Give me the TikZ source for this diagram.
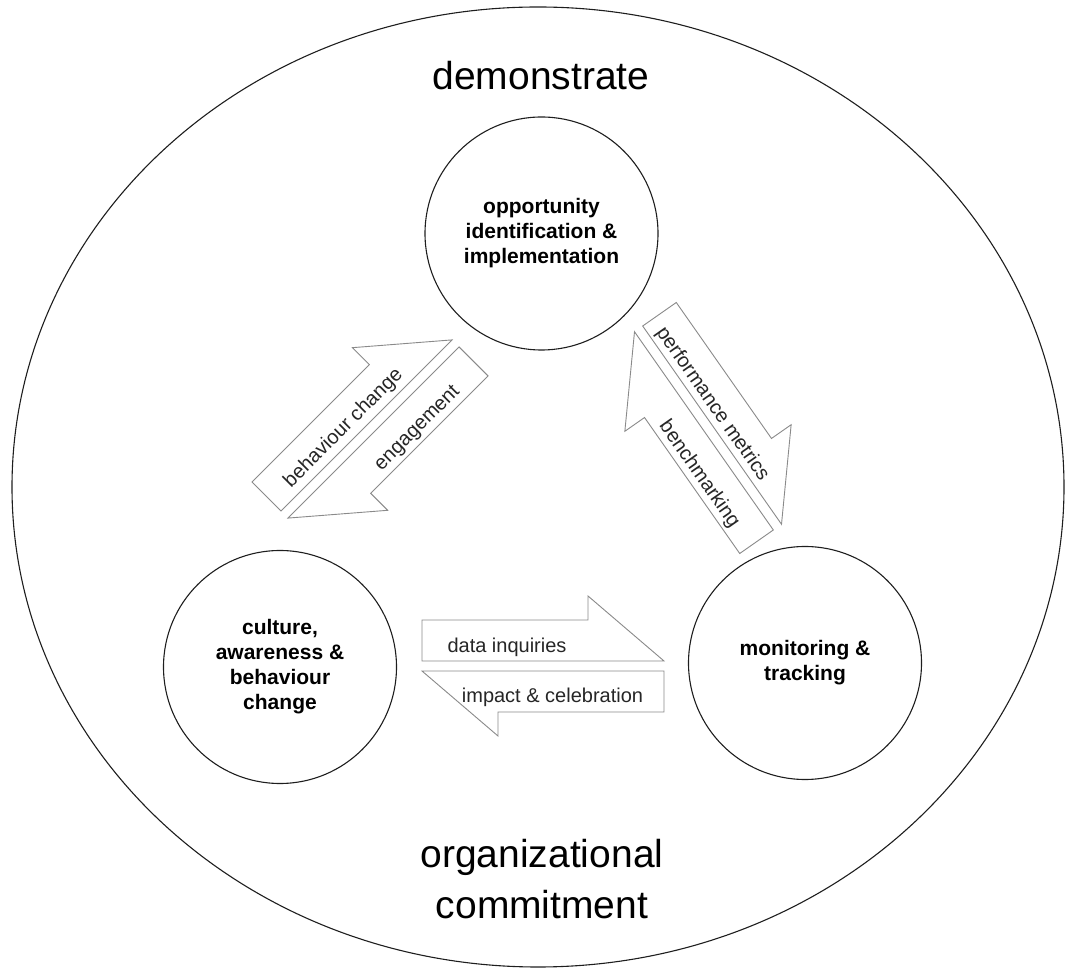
\documentclass[tikz,border=0pt]{standalone}
\usepackage{fontspec}
\setmainfont{Liberation Sans}
\usetikzlibrary{shapes.geometric}
\definecolor{CycLine}{HTML}{1E1E1E}
\definecolor{CycArrow}{HTML}{8A8A8A}
\definecolor{CycText}{HTML}{262626}

\begin{document}
\begin{tikzpicture}[
  x=1pt,y=1pt,
  rim/.style={ellipse,draw=CycLine,line width=1.1pt,minimum width=1052pt,minimum height=960pt,inner sep=0pt},
  hub/.style={circle,draw=CycLine,line width=1.1pt,minimum size=233pt,inner sep=0pt,align=center,font=\fontsize{21}{25}\selectfont\bfseries},
  motto/.style={font=\fontsize{39}{47}\selectfont,anchor=base,inner sep=0pt},
  flowarrow/.style={draw=CycArrow,line width=0.9pt,fill=white},
  flowtext/.style={font=\fontsize{20}{24}\selectfont,text=CycText,anchor=base,inner sep=0pt},
  pairarrow/.pic={
    \draw[flowarrow] (-121,5) -- (-121,46) -- (45,46) -- (45,70) -- (121,5) -- cycle;
    \draw[flowarrow] (121,-5) -- (121,-46) -- (-45,-46) -- (-45,-70) -- (-121,-5) -- cycle;
  }
]
\useasboundingbox (0,0) rectangle (1065,969);
\node[rim] (rim) at (538,482) {};
\node[motto] (demo) at (541,879) {demonstrate};
\node[motto] (org) at (542,101) {organizational};
\node[motto] (commit) at (542,51) {commitment};

\node[hub] (opp) at (541.5,735.5) {opportunity\\identification \&\\implementation};
\node[hub] (culture) at (280,302) {culture,\\awareness \&\\behaviour\\change};
\node[hub] (monitor) at (805,306) {monitoring \&\\tracking};

% culture <-> opportunity
\begin{scope}[shift={(370,540)},rotate=45]
  \pic[transform shape] {pairarrow};
  \node[flowtext,rotate=45] (behav) at (-18,14) {behaviour change};
  \node[flowtext,rotate=45] (engage) at (34,-38) {engagement};
\end{scope}

% opportunity <-> monitoring
\begin{scope}[shift={(708,541)},rotate=-55]
  \pic[transform shape] {pairarrow};
  \node[flowtext,rotate=-55] (perf) at (-17,12) {performance metrics};
  \node[flowtext,rotate=-55] (bench) at (33,-39) {benchmarking};
\end{scope}

% culture <-> monitoring
\begin{scope}[shift={(543,303)}]
  \pic {pairarrow};
  \node[flowtext] (data) at (-36,13) {data inquiries};
  \node[flowtext] (impact) at (9.5,-37) {impact \& celebration};
\end{scope}
\end{tikzpicture}
\end{document}
